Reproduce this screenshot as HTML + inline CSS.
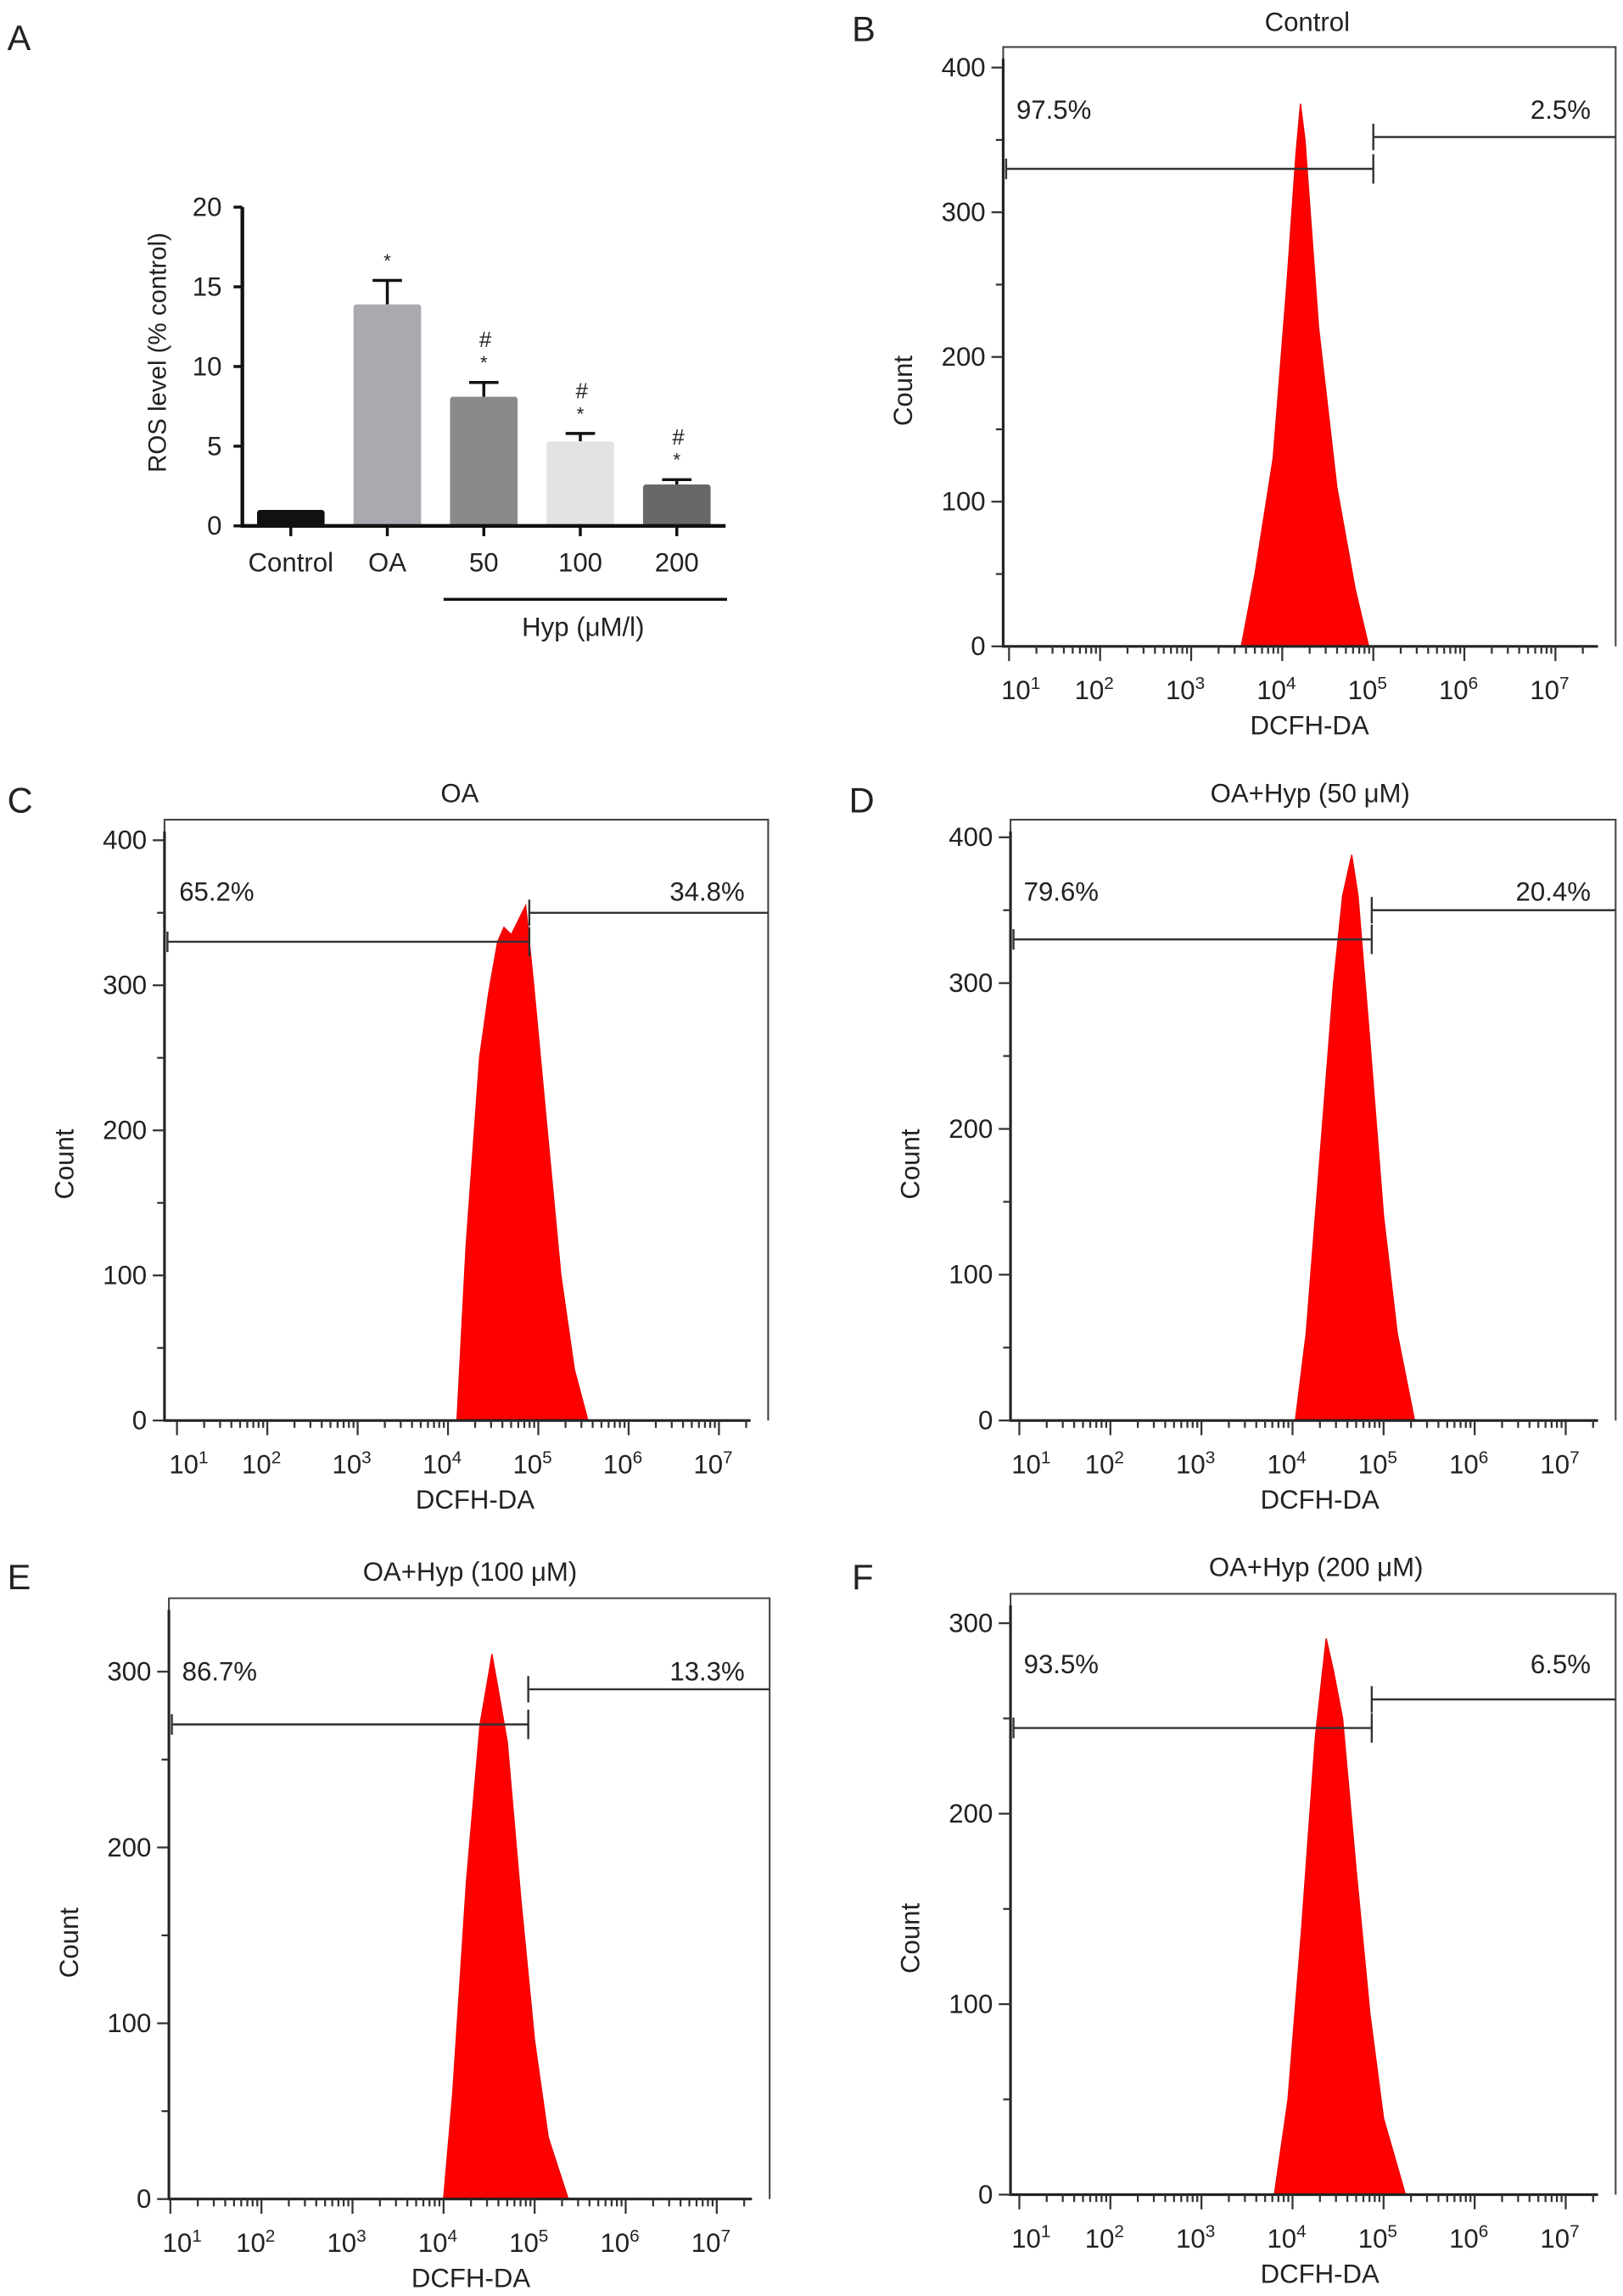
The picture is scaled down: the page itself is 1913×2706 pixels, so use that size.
<!DOCTYPE html>
<html><head><meta charset="utf-8"><style>
html,body{margin:0;padding:0;background:#fff}
svg{display:block}
text{font-family:"Liberation Sans",sans-serif;fill:#222}
</style></head><body>
<svg id="fig" xmlns="http://www.w3.org/2000/svg" width="1913" height="2706" viewBox="0 0 1105 1563" preserveAspectRatio="none"></svg>
<script>
// ---- Panel A data ----
const barCategories = ["Control","OA","50","100","200"];
const barValues = [1.0, 13.9, 8.1, 5.3, 2.6];
const barErrors = [0.1, 1.5, 0.9, 0.5, 0.3];
const barMarks = ["", "*", "#*", "#*", "#*"];
const barYTicks = [0,5,10,15,20];
// ---- Histogram data (log10 fluorescence, count) ----
const histLogB = [3.55,3.7,3.9,4.05,4.15,4.2,4.25,4.4,4.6,4.8,4.95];
const histCountB = [0,50,130,250,340,375,350,220,110,40,0];
const histLogC = [4.1,4.2,4.35,4.45,4.55,4.62,4.7,4.78,4.86,4.95,5.1,5.25,5.4,5.55];
const histCountC = [0,120,250,295,330,340,335,345,355,300,200,100,35,0];
const histLogD = [4.03,4.15,4.3,4.45,4.55,4.65,4.72,4.85,5.0,5.15,5.34];
const histCountD = [0,60,180,300,360,388,360,260,140,60,0];
const histLogE = [4.0,4.1,4.25,4.4,4.5,4.53,4.6,4.7,4.85,5.0,5.15,5.37];
const histCountE = [0,60,180,270,300,310,290,260,170,90,35,0];
const histLogF = [3.8,3.95,4.1,4.25,4.37,4.45,4.55,4.7,4.85,5.0,5.24];
const histCountF = [0,50,140,240,292,275,250,170,95,40,0];
const gateLeftPct = ["97.5%","65.2%","79.6%","86.7%","93.5%"];
const gateRightPct = ["2.5%","34.8%","20.4%","13.3%","6.5%"];
const gateLeftCount = [330,330,330,270,245];
const gateRightCount = [352,350,350,290,260];
const gateLog = [5.0,4.9,4.87,4.93,4.87];
const yTicksFull = [0,100,200,300,400];
const yTicksShort = [0,100,200,300];
const decades = [1,2,3,4,5,6,7];

const NS="http://www.w3.org/2000/svg";
const svg=document.getElementById('fig');
function el(tag,attrs,parent,txt){const e=document.createElementNS(NS,tag);for(const k in attrs)e.setAttribute(k,attrs[k]);if(txt!==undefined)e.textContent=txt;(parent||svg).appendChild(e);return e;}

// ---------- Panel A ----------
const gA=el('g',{});


let t=el('text',{x:5,y:34,'font-size':24},gA,'A');

const aX0=165,aY0=358,aPer=(358-141)/20;
const ay=v=>aY0-v*aPer;
const barX=i=>198+i*65.7;
const barColors=["#111111","#a9aab0","#8a8a8a","#e3e3e3","#686868"];
barValues.forEach((v,i)=>{
  const cx=barX(i);
  if(barErrors[i]>0.2){
    const l=el('path',{d:`M${cx} ${ay(v)}V${ay(v+barErrors[i])}M${cx-10} ${ay(v+barErrors[i])}H${cx+10}`,stroke:'#111','stroke-width':2,fill:'none'},gA);
    
  }
  const r=el('rect',{x:cx-23,y:ay(v),width:46,height:aY0-ay(v),fill:barColors[i],rx:2},gA);
  
  const m=barMarks[i];const top=ay(v+barErrors[i]);
  if(m.includes('*')){const s=el('text',{x:cx,y:top-9,'font-size':13,'text-anchor':'middle'},gA,'*');}
  if(m.includes('#')){const h=el('text',{x:cx+1,y:top-24,'font-size':15,'text-anchor':'middle'},gA,'#');}
  const tk=el('line',{x1:cx,y1:aY0,x2:cx,y2:aY0+7,stroke:'#111','stroke-width':2},gA);
  
  const lb=el('text',{x:cx,y:aY0+31,'font-size':18,'text-anchor':'middle'},gA,barCategories[i]);
  
});
let ax=el('path',{d:`M${aX0} ${ay(20)}V${aY0}H494`,stroke:'#111','stroke-width':2.5,fill:'none'},gA);

barYTicks.forEach(v=>{
  const l=el('line',{x1:aX0-6,y1:ay(v),x2:aX0,y2:ay(v),stroke:'#111','stroke-width':2},gA);
  
  const tt=el('text',{x:aX0-14,y:ay(v)+6,'font-size':18,'text-anchor':'end'},gA,String(v));
  
});
t=el('text',{transform:'translate(113,240) rotate(-90)','font-size':17,'text-anchor':'middle'},gA,'ROS level (% control)');

let hl=el('line',{x1:302,y1:408,x2:495,y2:408,stroke:'#111','stroke-width':2},gA);

t=el('text',{x:397,y:433,'font-size':18,'text-anchor':'middle'},gA,'Hyp (μM/l)');


// ---------- Histograms ----------
const panels=[
 {id:'b',letter:'B',lx:580,ly:28,title:'Control',tx:890,ty:21,L:683,R:1100,T:32,B:440,per:(440-46)/400,x4:873,dec:62,yt:yTicksFull,logs:histLogB,counts:histCountB,plx:692,prx:1083,py:81},
 {id:'c',letter:'C',lx:5,ly:553,title:'OA',tx:313,ty:546,L:112,R:523,T:558,B:967,per:(967-572)/400,x4:305,dec:61.5,yt:yTicksFull,logs:histLogC,counts:histCountC,plx:122,prx:507,py:613},
 {id:'d',letter:'D',lx:578,ly:553,title:'OA+Hyp  (50 μM)',tx:892,ty:546,L:688,R:1100,T:558,B:967,per:(967-570)/400,x4:880,dec:62,yt:yTicksFull,logs:histLogD,counts:histCountD,plx:697,prx:1083,py:613},
 {id:'e',letter:'E',lx:5,ly:1082,title:'OA+Hyp  (100 μM)',tx:320,ty:1076,L:115,R:524,T:1088,B:1497,per:(1497-1138)/300,x4:302,dec:62,yt:yTicksShort,logs:histLogE,counts:histCountE,plx:124,prx:507,py:1144},
 {id:'f',letter:'F',lx:580,ly:1082,title:'OA+Hyp (200 μM)',tx:896,ty:1073,L:688,R:1100,T:1085,B:1494,per:(1494-1105)/300,x4:880,dec:62,yt:yTicksShort,logs:histLogF,counts:histCountF,plx:697,prx:1083,py:1139}
];
panels.forEach((p,pi)=>{
  const g=el('g',{});
  
  
  const xs=lg=>p.x4+(lg-4)*p.dec;
  const ys=c=>p.B-c*p.per;
  let e=el('text',{x:p.lx,y:p.ly,'font-size':24},g,p.letter);
  
  e=el('text',{x:p.tx,y:p.ty,'font-size':18,'text-anchor':'middle'},g,p.title);
  
  // histogram
  let d='M'+xs(p.logs[0])+' '+ys(0);
  p.logs.forEach((lg,i)=>{d+=' L'+xs(lg).toFixed(1)+' '+ys(p.counts[i]).toFixed(1);});
  d+=' Z';
  e=el('path',{d:d,fill:'#ff0000',stroke:'#ee0000','stroke-width':0.8},g);
  
  // frame
  e=el('path',{d:`M${p.L} ${p.B}V${p.T}H${p.R}V${p.B}`,fill:'none',stroke:'#444','stroke-width':1.2},g);
  
  e=el('path',{d:`M${p.L} ${p.T+8}V${p.B}H${p.R-12}`,fill:'none',stroke:'#222','stroke-width':1.8},g);
  
  // y ticks
  const ymax=p.yt[p.yt.length-1];
  for(let c=0;c<=ymax+25;c+=25){
    const major=c%100===0, mid=c%50===0;
    if(ys(c)<p.T+2)break;
    const len=major?8:(mid?5:0);
    if(!len)continue;
    const tl=el('line',{x1:p.L-len,y1:ys(c),x2:p.L,y2:ys(c),stroke:'#333','stroke-width':1.3},g);
    
  }
  p.yt.forEach(v=>{
    const tt=el('text',{x:p.L-12,y:ys(v)+6,'font-size':18,'text-anchor':'end'},g,String(v));
    
  });
  e=el('text',{transform:`translate(${p.L-62},${(p.T+p.B)/2+30}) rotate(-90)`,'font-size':18,'text-anchor':'middle'},g,'Count');
  
  // x ticks
  for(let dcd=1;dcd<=7;dcd++){
    for(let m=1;m<=9;m++){
      const lg=dcd+Math.log10(m);
      const x=xs(lg);
      if(x<p.L-1||x>p.R-12)continue;
      const tl=el('line',{x1:x,y1:p.B,x2:x,y2:p.B+(m===1?10:5),stroke:'#333','stroke-width':1.3},g);
      
    }
  }
  decades.forEach(dcd=>{
    const x=xs(dcd)-(dcd===1?-8:4);
    const tt=el('text',{x:x,y:p.B+36,'font-size':18,'text-anchor':'middle'},g);
    
    el('tspan',{},tt,'10');
    el('tspan',{dy:-7,'font-size':12},tt,String(dcd));
  });
  e=el('text',{x:xs(4.3),y:p.B+60,'font-size':18,'text-anchor':'middle'},g,'DCFH-DA');
  
  // gates
  const gx=xs(gateLog[pi]);
  const yl=ys(gateLeftCount[pi]), yr=ys(gateRightCount[pi]);
  e=el('path',{d:`M${p.L+2} ${yl}H${gx}M${p.L+2} ${yl-7}V${yl+7}M${gx} ${yl-10}V${yl+10}`,stroke:'#333','stroke-width':1.4,fill:'none'},g);
  
  e=el('path',{d:`M${gx} ${yr}H${p.R}M${gx} ${yr-9}V${yr+9}`,stroke:'#333','stroke-width':1.4,fill:'none'},g);
  
  e=el('text',{x:p.plx,y:p.py,'font-size':18},g,gateLeftPct[pi]);
  
  e=el('text',{x:p.prx,y:p.py,'font-size':18,'text-anchor':'end'},g,gateRightPct[pi]);
  
});
</script>
</body></html>
